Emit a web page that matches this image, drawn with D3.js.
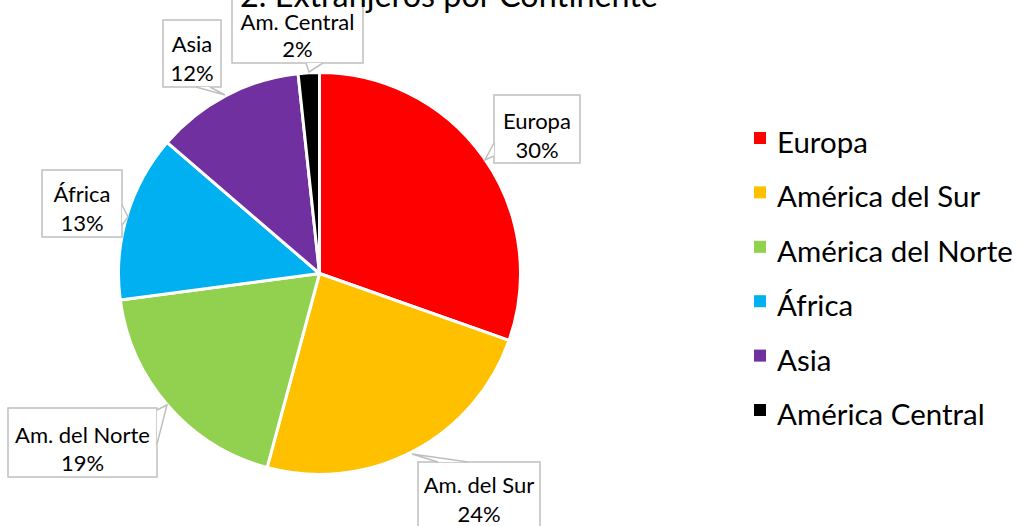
<!DOCTYPE html>
<html>
<head>
<meta charset="utf-8">
<script src="https://cdn.jsdelivr.net/npm/d3@7"></script>
<style>
  html, body { margin: 0; padding: 0; background: #fff; }
  svg { display: block; }
  text { font-family: Lato, "Open Sans", sans-serif; fill: #000; }
</style>
</head>
<body>
<svg id="chart" width="1022" height="526"></svg>
<script>
// ---- data ----
const titleText = "2. Extranjeros por Continente";
const categories = ["Europa", "América del Sur", "América del Norte", "África", "Asia", "América Central"];
const shortLabels = ["Europa", "Am. del Sur", "Am. del Norte", "África", "Asia", "Am. Central"];
const values = [30.4, 23.8, 18.7, 13.4, 12.0, 1.7];
const colors = ["#FF0000", "#FFC000", "#92D050", "#00B0F0", "#7030A0", "#000000"];

// ---- layout ----
const W = 1022, H = 526;
const cx = 319.5, cy = 273.5, R = 201;
// callout boxes: rect + wedge (base1, tip, base2)
const callouts = [
  { box: [494, 95, 86, 68],  wedge: [[494,143],[485,160],[494,156]], lines: [129, 158] },
  { box: [418, 462, 122, 80], wedge: [[438,462],[412,454],[468,462]], lines: [493, 522] },
  { box: [8, 408, 149, 69],  wedge: [[157,410],[167,405],[157,444]], lines: [443, 471] },
  { box: [42, 170, 80, 67],  wedge: [[122,205],[128,217],[122,225]], lines: [202, 231] },
  { box: [163, 20, 58, 67],  wedge: [[196,87],[225,95],[210,87]],   lines: [52, 81] },
  { box: [232, -2, 131, 65], wedge: [[306,63],[309,72],[323,63]],   lines: [30, 57] }
];

const svg = d3.select("#chart");

// font fitting helper: find font size so that a string reaches a target width
function fitSize(str, target) {
  const t = svg.append("text").attr("font-size", 100).text(str);
  const w = t.node().getComputedTextLength();
  t.remove();
  return 100 * target / w;
}
const legendSize = fitSize("América del Norte", 236);
const labelSize = fitSize("Am. del Norte", 135);
const titleSize = fitSize(titleText, 418);

// ---- pie ----
const total = d3.sum(values);
const pie = d3.pie().sort(null).value(d => d).startAngle(0).endAngle(2 * Math.PI);
const arc = d3.arc().innerRadius(0).outerRadius(R);
const arcs = pie(values);

const g = svg.append("g").attr("transform", `translate(${cx},${cy})`);
g.selectAll("path").data(arcs).join("path")
  .attr("d", arc)
  .attr("fill", (d, i) => colors[i])
  .attr("stroke", "#fff")
  .attr("stroke-width", 3)
  .attr("stroke-linejoin", "round");

// ---- callouts ----
const fmt = v => Math.round(v / total * 100) + "%";
const cg = svg.append("g");
callouts.forEach((c, i) => {
  const [x, y, w, h] = c.box;
  const grp = cg.append("g");
  grp.append("rect").attr("x", x).attr("y", y).attr("width", w).attr("height", h)
    .attr("fill", "#fff").attr("stroke", "#BFBFBF").attr("stroke-width", 1.5);
  grp.append("path").attr("d", "M" + c.wedge.map(p => p.join(",")).join("L") + "Z")
    .attr("fill", "#fff").attr("stroke", "none");
  grp.append("path").attr("d", "M" + c.wedge.map(p => p.join(",")).join("L"))
    .attr("fill", "none").attr("stroke", "#BFBFBF").attr("stroke-width", 1.5);
  const tx = x + w / 2;
  grp.append("text").attr("x", tx).attr("y", c.lines[0]).attr("text-anchor", "middle")
    .attr("font-size", labelSize).text(shortLabels[i]);
  grp.append("text").attr("x", tx).attr("y", c.lines[1]).attr("text-anchor", "middle")
    .attr("font-size", labelSize).text(fmt(values[i]));
});

// ---- legend ----
const lg = svg.append("g");
const legY = d3.scalePoint().domain(categories).range([153, 425]);
categories.forEach((c, i) => {
  const by = legY(c);
  lg.append("rect").attr("x", 754).attr("y", by - 21).attr("width", 12).attr("height", 12)
    .attr("fill", colors[i]);
  lg.append("text").attr("x", 777).attr("y", by).attr("font-size", legendSize).text(c);
});

// ---- title ----
svg.append("text").attr("x", 449).attr("y", 7).attr("text-anchor", "middle")
  .attr("font-size", titleSize).text(titleText);
</script>
</body>
</html>
